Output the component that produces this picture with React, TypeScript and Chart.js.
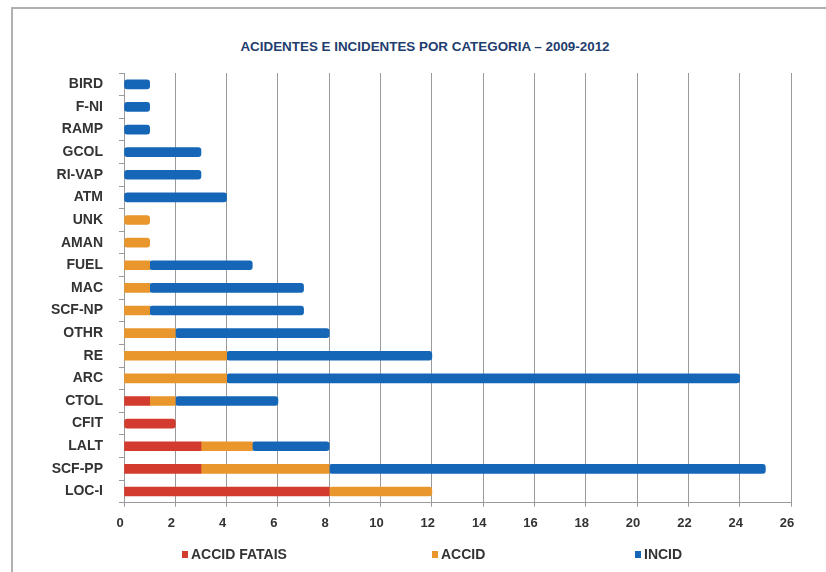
import React, { useEffect, useRef } from "react";
import { Chart, registerables } from "chart.js";

Chart.register(...registerables);

const TITLE = "ACIDENTES E INCIDENTES POR CATEGORIA – 2009-2012";
const categories = [
  "BIRD", "F-NI", "RAMP", "GCOL", "RI-VAP", "ATM", "UNK", "AMAN", "FUEL", "MAC",
  "SCF-NP", "OTHR", "RE", "ARC", "CTOL", "CFIT", "LALT", "SCF-PP", "LOC-I",
];
const seriesNames = ["ACCID FATAIS", "ACCID", "INCID"];
const accidFatais = [0, 0, 0, 0, 0, 0, 0, 0, 0, 0, 0, 0, 0, 0, 1, 2, 3, 3, 8];
const accid = [0, 0, 0, 0, 0, 0, 1, 1, 1, 1, 1, 2, 4, 4, 1, 0, 2, 5, 4];
const incid = [1, 1, 1, 3, 3, 4, 0, 0, 4, 6, 6, 6, 8, 20, 4, 0, 3, 17, 0];
const xMin = 0;
const xMax = 26;
const xStep = 2;

const colors = ["#d23b2d", "#e9962c", "#1666b7"];
const FONT = "'Liberation Sans', Arial, sans-serif";

export default function App() {
  const ref = useRef<HTMLCanvasElement | null>(null);

  useEffect(() => {
    if (!ref.current) return;
    const values = [accidFatais, accid, incid];
    const chart = new Chart(ref.current, {
      type: "bar",
      data: {
        labels: categories,
        datasets: seriesNames.map((name, i) => ({
          label: name,
          data: values[i].map((v) => (v === 0 ? null : v)),
          backgroundColor: colors[i],
          borderWidth: 0,
          barThickness: 9,
          borderRadius: 3,
          borderSkipped: false,
        })),
      },
      options: {
        indexAxis: "y",
        responsive: false,
        animation: false,
        layout: { padding: { top: 73, right: 35, bottom: 31.2, left: 0 } },
        plugins: {
          legend: { display: false },
          title: { display: false },
          tooltip: { enabled: false },
        },
        scales: {
          x: {
            stacked: true,
            min: xMin,
            max: xMax,
            ticks: {
              stepSize: xStep,
              color: "#333333",
              font: { family: FONT, size: 13, weight: "bold" },
              padding: 9.2,
              labelOffset: -4,
            },
            grid: {
              color: "#9a9a9a",
              lineWidth: 1,
              tickLength: 4,
              drawTicks: true,
            },
            border: { display: true, color: "#9a9a9a" },
          },
          y: {
            stacked: true,
            afterFit: (s: any) => {
              s.width = 124;
            },
            ticks: {
              color: "#333333",
              font: { family: FONT, size: 14, weight: "bold" },
              padding: 16,
            },
            grid: {
              display: true,
              drawOnChartArea: false,
              tickLength: 5,
              color: "#9a9a9a",
            },
            border: { display: true, color: "#9a9a9a" },
          },
        },
      },
    });
    return () => chart.destroy();
  }, []);

  const legendPos = [182, 432, 635];

  return (
    <div
      style={{
        position: "absolute",
        left: 0,
        top: 0,
        width: 826,
        height: 572,
        background: "#ffffff",
        overflow: "hidden",
        fontFamily: FONT,
      }}
    >
      <div
        style={{
          position: "absolute",
          left: 11,
          top: 7,
          width: 815,
          height: 565,
          borderTop: "2px solid #b0b0b0",
          borderLeft: "2px solid #b0b0b0",
          boxSizing: "border-box",
        }}
      />
      <div
        style={{
          position: "absolute",
          left: 175,
          width: 500,
          top: 39,
          textAlign: "center",
          fontSize: 13.4,
          fontWeight: "bold",
          color: "#1f3d6e",
          whiteSpace: "nowrap",
          lineHeight: "16px",
        }}
      >
        {TITLE}
      </div>
      <canvas ref={ref} width={826} height={572} style={{ position: "absolute", left: 0, top: 0 }} />
      {seriesNames.map((name, i) => (
        <div
          key={name}
          style={{
            position: "absolute",
            left: legendPos[i],
            top: 546,
            height: 16,
            display: "flex",
            alignItems: "center",
            fontSize: 14,
            fontWeight: "bold",
            color: "#333333",
            whiteSpace: "nowrap",
          }}
        >
          <span style={{ display: "inline-block", width: 6, height: 7, background: colors[i], marginRight: 3 }} />
          {name}
        </div>
      ))}
    </div>
  );
}
